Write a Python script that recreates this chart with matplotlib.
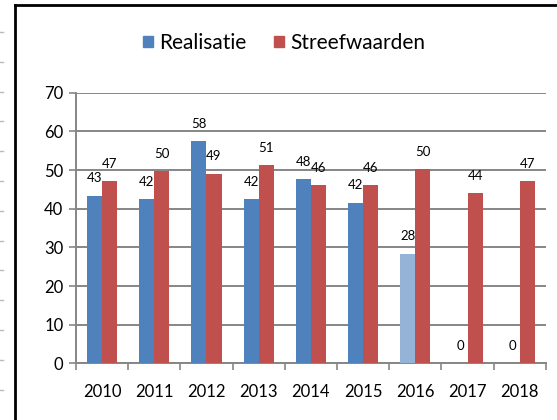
import numpy as np
import matplotlib
matplotlib.use('Agg')
import matplotlib.pyplot as plt
from matplotlib.lines import Line2D

# Data
years = ['2010', '2011', '2012', '2013', '2014', '2015', '2016', '2017', '2018']
realisatie = [43.4, 42.4, 57.6, 42.4, 47.7, 41.6, 28.4, 0, 0]
streefwaarden = [47.2, 49.7, 49.1, 51.2, 46.1, 46.1, 50.2, 44.0, 47.2]

blue = '#4F81BD'
light_blue = '#95B3D7'
red = '#C0504D'
grid_gray = '#868686'

plt.rcParams['font.family'] = ['Lato', 'DejaVu Sans']

fig = plt.figure(figsize=(5.57, 4.2), dpi=100)
ax = fig.add_axes([0.1364, 0.135, 0.980 - 0.1364, 0.779 - 0.135])

x = np.arange(len(years))
w = 0.29
blue_colors = [blue] * 6 + [light_blue] * 3
ax.bar(x - w / 2, realisatie, w, color=blue_colors, label='Realisatie', zorder=3)
ax.bar(x + w / 2, streefwaarden, w, color=red, label='Streefwaarden', zorder=3)

for xi, v in zip(x, realisatie):
    ax.annotate(f'{v:.0f}', (xi - w / 2, v), xytext=(0, 8), textcoords='offset points',
                ha='center', va='bottom', fontsize=9.5)
for xi, v in zip(x, streefwaarden):
    ax.annotate(f'{v:.0f}', (xi + w / 2, v), xytext=(0, 8), textcoords='offset points',
                ha='center', va='bottom', fontsize=9.5)

ax.set_xlim(-0.5, len(years) - 0.5)
ax.set_ylim(0, 70)
ax.set_yticks(range(0, 71, 10))
ax.yaxis.grid(True, color=grid_gray, linewidth=1.4, zorder=0)
ax.set_axisbelow(True)

ax.set_xticks(x)
ax.set_xticklabels(years, fontsize=12)
ax.set_xticks(np.arange(-0.5, len(years)), minor=True)
ax.tick_params(axis='x', which='major', length=0, pad=15)
ax.tick_params(axis='x', which='minor', length=5, color=grid_gray, width=1.2)
ax.tick_params(axis='y', length=5, color=grid_gray, width=1.2, labelsize=12, pad=4)

for s in ['top', 'right']:
    ax.spines[s].set_visible(False)
ax.spines['left'].set_color(grid_gray)
ax.spines['bottom'].set_color(grid_gray)
ax.spines['left'].set_linewidth(1.4)
ax.spines['bottom'].set_linewidth(1.4)

handles = [plt.Rectangle((0, 0), 1, 1, color=blue), plt.Rectangle((0, 0), 1, 1, color=red)]
fig.legend(handles, ['Realisatie', 'Streefwaarden'], loc='center', bbox_to_anchor=(0.51, 0.898),
           ncol=2, frameon=False, fontsize=15, handlelength=0.5, handleheight=0.5,
           handletextpad=0.3, columnspacing=1.3)

# outer frame (partly cut off in the reference)
fig.add_artist(Line2D([15 / 557, 15 / 557], [0, 1 - 5 / 420], color='black', linewidth=2))
fig.add_artist(Line2D([15 / 557, 1], [1 - 5 / 420, 1 - 5 / 420], color='black', linewidth=2))

# faint marks at the left edge
for yy in np.arange(32, 400, 29.8):
    fig.add_artist(Line2D([0, 3 / 557], [1 - yy / 420, 1 - yy / 420], color='#BBBBBB', linewidth=1))

fig.savefig('out.png', dpi=100)
